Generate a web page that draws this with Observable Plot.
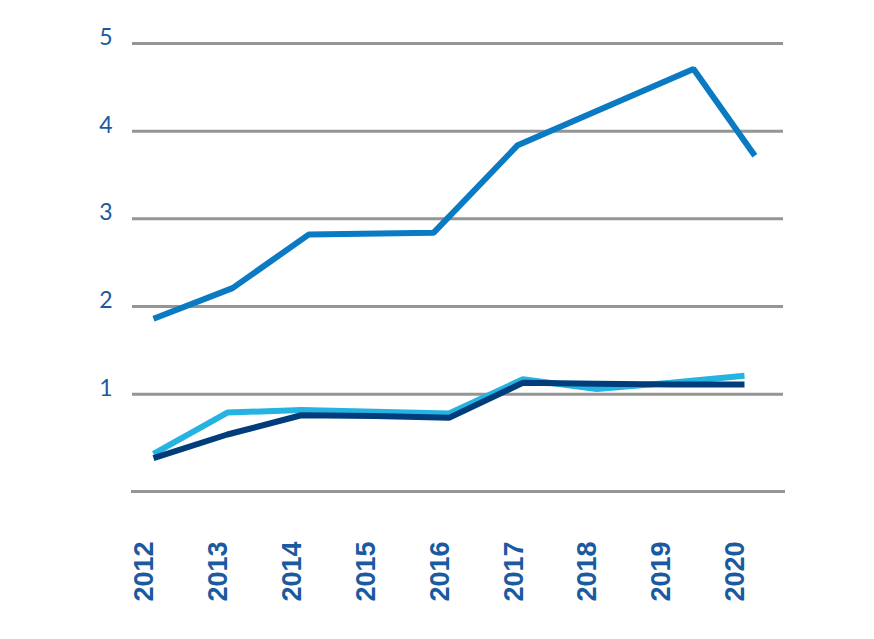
<!DOCTYPE html>
<html>
<head>
<meta charset="utf-8">
<script src="https://cdn.jsdelivr.net/npm/d3@7"></script>
<script src="https://cdn.jsdelivr.net/npm/@observablehq/plot@0.6"></script>
<style>
  body { margin: 0; background: #fff; }
  #chart svg { display: block; }
</style>
</head>
<body>
<div id="chart"></div>
<script>
// Category labels (x axis)
const years = [2012, 2013, 2014, 2015, 2016, 2017, 2018, 2019, 2020];
// y axis tick labels
const yTicks = [1, 2, 3, 4, 5];

// Upper series (medium blue) (x in years)
const topX = [2012, 2013.07, 2014.1, 2015.79, 2016.93, 2019.31, 2020.14];
const topY = [1.86, 2.21, 2.82, 2.84, 3.84, 4.71, 3.72];

// Lower series, one value per year
const lightY = [0.32, 0.79, 0.82, 0.80, 0.78, 1.17, 1.06, 1.13, 1.21];
const darkY  = [0.27, 0.54, 0.76, 0.75, 0.73, 1.13, 1.12, 1.11, 1.11];

const topData = topX.map((x, i) => ({x, y: topY[i]}));
const lightData = years.map((x, i) => ({x, y: lightY[i]}));
const darkData = years.map((x, i) => ({x, y: darkY[i]}));

const textColor = "#1a5aa0";
const gridColor = "#959595";

const chart = Plot.plot({
  width: 874,
  height: 639,
  marginLeft: 132,
  marginRight: 91,
  marginTop: 43,
  marginBottom: 148,
  x: {type: "linear", domain: [2011.716, 2020.528], axis: null},
  y: {type: "linear", domain: [-0.11, 5], axis: null},
  marks: [
    Plot.gridY(yTicks, {stroke: gridColor, strokeWidth: 3, strokeOpacity: 1}),
    Plot.frame({anchor: "bottom", stroke: gridColor, strokeWidth: 3, strokeOpacity: 1}),
    Plot.axisY(yTicks, {
      anchor: "left", tickSize: 0, tickPadding: 20, fontSize: 23,
      fontFamily: "Lato", fill: textColor, dy: -6, tickFormat: d => String(d), label: null
    }),
    Plot.text(years, {
      x: d => d, text: d => String(d), frameAnchor: "bottom",
      rotate: -90, textAnchor: "end", lineAnchor: "middle",
      dy: 50, dx: -9, fontSize: 27, fontWeight: "bold",
      fontFamily: "Liberation Sans, Arial, sans-serif", fill: textColor
    }),
    Plot.line(topData, {x: "x", y: "y", stroke: "#0a7bc2", strokeWidth: 6, strokeLinejoin: "miter", strokeLinecap: "butt"}),
    Plot.line(lightData, {x: "x", y: "y", stroke: "#25b4e2", strokeWidth: 6, strokeLinejoin: "miter", strokeLinecap: "butt"}),
    Plot.line(darkData, {x: "x", y: "y", stroke: "#003d7a", strokeWidth: 6, strokeLinejoin: "miter", strokeLinecap: "butt"})
  ]
});
document.getElementById("chart").appendChild(chart);
</script>
</body>
</html>
